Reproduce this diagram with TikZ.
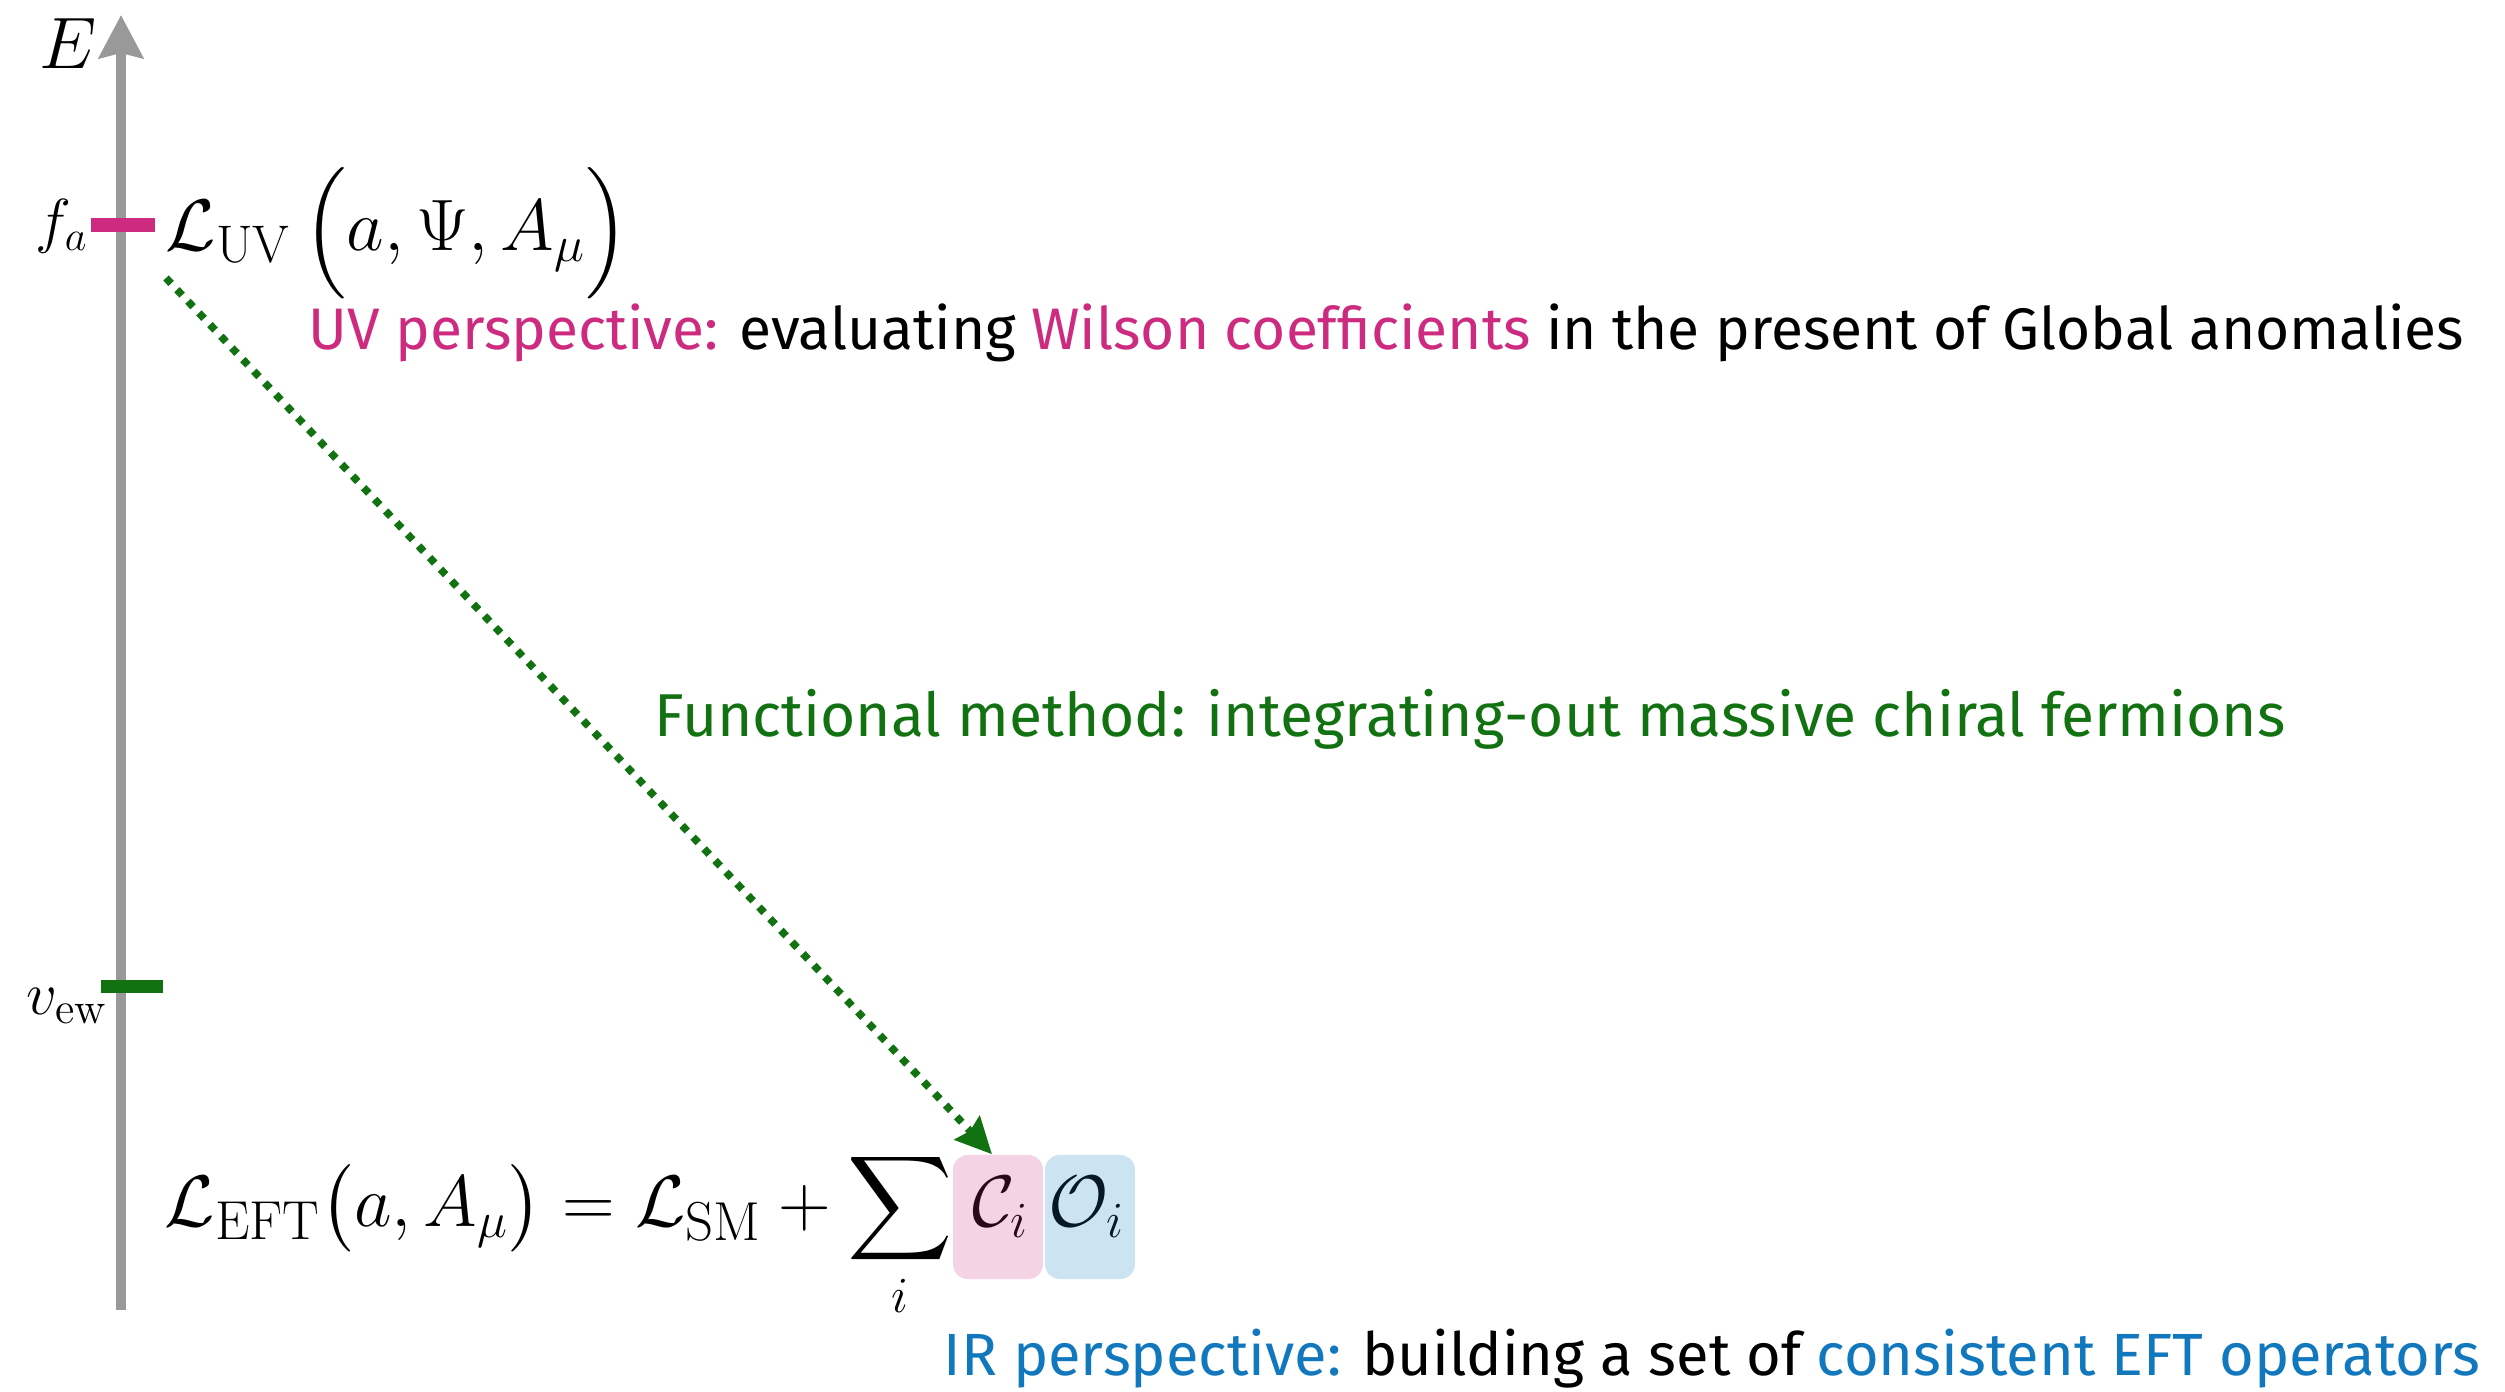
\documentclass[tikz,border=0pt]{standalone}
\usepackage{amsmath}
\usepackage{fontspec}
\setsansfont{Fira Sans}
\usetikzlibrary{arrows.meta}
\definecolor{uvpink}{RGB}{205,43,128}
\definecolor{dkgreen}{RGB}{18,114,18}
\definecolor{irblue}{RGB}{18,120,189}
\definecolor{axisgray}{RGB}{153,153,153}
\definecolor{boxpink}{RGB}{243,211,228}
\definecolor{boxblue}{RGB}{204,227,241}
\begin{document}
\begin{tikzpicture}[x=0.01cm,y=-0.01cm,
  mathbig/.style={font=\fontsize{22.3}{26}\selectfont, inner sep=0pt},
  mathuv/.style={font=\fontsize{21.5}{26}\selectfont, inner sep=0pt},
  mathsmall/.style={font=\fontsize{18}{22}\selectfont, inner sep=0pt},
  annot/.style={font=\sffamily\fontsize{15}{18}\selectfont, inner sep=0pt},
  axisline/.style={line width=0.1cm, draw=axisgray, -{Stealth[length=0.43cm,width=0.44cm,inset=0.05cm]}},
  flowarrow/.style={line width=0.075cm, draw=dkgreen, dash pattern=on 0.075cm off 0.085cm, -{Stealth[length=0.36cm,width=0.34cm,inset=0.04cm]}},
  opbox/.style={rounded corners=0.15cm, minimum width=0.9cm, minimum height=1.24cm, inner sep=0pt}]
\useasboundingbox (0,0) rectangle (2505,1392);
% energy axis
\coordinate (axbot) at (121,1310);
\coordinate (axtop) at (121,15);
\draw[axisline] (axbot) -- (axtop);
\node[mathbig] (E) at (68,44) {$E$};
% scale ticks
\fill[uvpink] (91,218) rectangle (155,232);
\fill[dkgreen] (101,980) rectangle (163,993);
\node[mathsmall] (fa) at (62,226) {$f_a$};
\node[mathsmall] (vew) at (67,1006) {$v_{\mathrm{ew}}$};
% UV Lagrangian
\node[mathuv, anchor=base west] (LUV) at (165,251) {$\mathcal{L}_{\mathrm{UV}}\left(\vrule height 19.1pt depth 8.4pt width 0pt a,\Psi,A_\mu\right)$};
% EFT Lagrangian
\node[mathbig, anchor=base west] (LEFT) at (164,1227) {$\displaystyle \mathcal{L}_{\mathrm{EFT}}\bigl(a,A_\mu\bigr)=\mathcal{L}_{\mathrm{SM}}+\sum_i$};
\node[opbox, fill=boxpink] (C) at (998,1217) {};
\node[opbox, fill=boxblue] (O) at (1090,1217) {};
\node[mathbig, anchor=base, text=black!80!uvpink] (Ct) at (1001,1227) {$\mathcal{C}_i$};
\node[mathbig, anchor=base, text=black!80!irblue] (Ot) at (1087,1227) {$\mathcal{O}_i$};
% functional-method arrow
\coordinate (start) at (166,278);
\draw[flowarrow] (start) -- ([xshift=-0.06cm]C.north);
% annotations
\node[annot, anchor=west] (uvtxt) at (308,333) {\resizebox{21.54cm}{!}{\textcolor{uvpink}{UV perspective:} evaluating \textcolor{uvpink}{Wilson coefficients} in the present of Global anomalies}};
\node[annot, anchor=center, text=dkgreen] (fmtxt) at (1470,719) {\resizebox{16.30cm}{!}{Functional method: integrating-out massive chiral fermions}};
\node[annot, anchor=west] (irtxt) at (943,1359) {\resizebox{15.36cm}{!}{\textcolor{irblue}{IR perspective:} building a set of \textcolor{irblue}{consistent EFT operators}}};
\end{tikzpicture}
\end{document}
